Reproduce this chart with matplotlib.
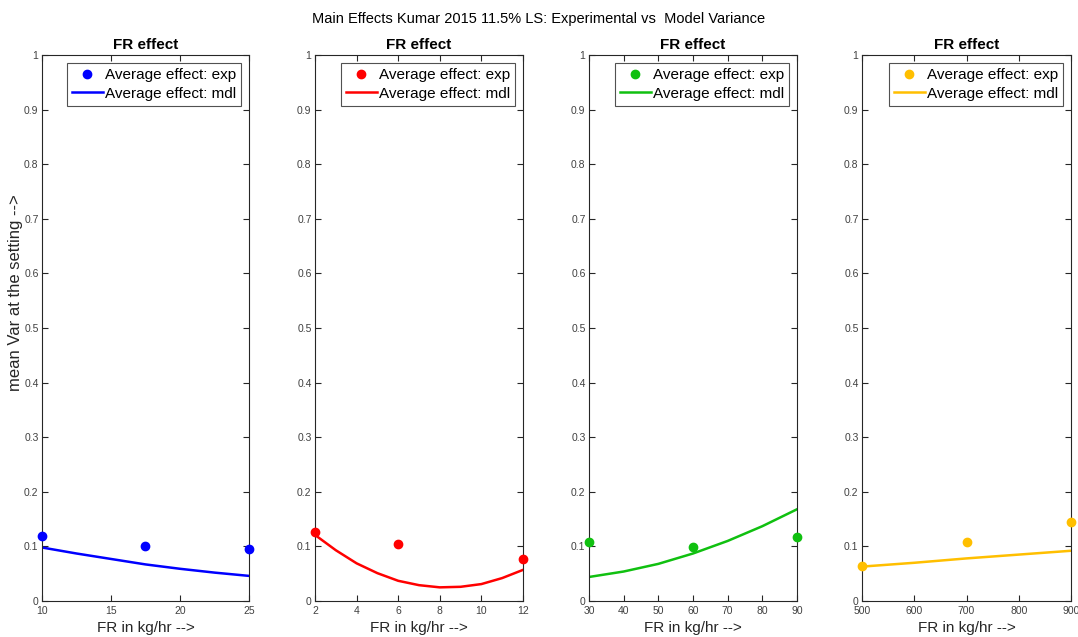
import matplotlib
matplotlib.use("Agg")
import matplotlib.pyplot as plt
import numpy as np

plt.rcParams['font.family'] = ['Liberation Sans', 'DejaVu Sans']

# Panel 1
x1_exp = [10, 17.5, 25]
y1_exp = [0.119, 0.101, 0.095]
x1_mdl = [10, 12.5, 15, 17.5, 20, 22.5, 25]
y1_mdl = [0.098, 0.087, 0.077, 0.067, 0.059, 0.052, 0.046]
# Panel 2
x2_exp = [2, 6, 12]
y2_exp = [0.126, 0.104, 0.077]
x2_mdl = [2, 3, 4, 5, 6, 7, 8, 9, 10, 11, 12]
y2_mdl = [0.121, 0.093, 0.069, 0.051, 0.037, 0.029, 0.025, 0.026, 0.031, 0.042, 0.057]
# Panel 3
x3_exp = [30, 60, 90]
y3_exp = [0.108, 0.099, 0.117]
x3_mdl = [30, 40, 50, 60, 70, 80, 90]
y3_mdl = [0.044, 0.054, 0.068, 0.087, 0.110, 0.137, 0.168]
# Panel 4
x4_exp = [500, 700, 900]
y4_exp = [0.065, 0.108, 0.145]
x4_mdl = [500, 600, 700, 800, 900]
y4_mdl = [0.063, 0.070, 0.078, 0.085, 0.092]

panels = [
    (x1_exp, y1_exp, x1_mdl, y1_mdl, [10, 15, 20, 25], (10, 25), '#0000FF'),
    (x2_exp, y2_exp, x2_mdl, y2_mdl, [2, 4, 6, 8, 10, 12], (2, 12), '#FF0000'),
    (x3_exp, y3_exp, x3_mdl, y3_mdl, [30, 40, 50, 60, 70, 80, 90], (30, 90), '#10C010'),
    (x4_exp, y4_exp, x4_mdl, y4_mdl, [500, 600, 700, 800, 900], (500, 900), '#FFBF00'),
]

yticks = [0, 0.1, 0.2, 0.3, 0.4, 0.5, 0.6, 0.7, 0.8, 0.9, 1]
ytick_labels = ['0', '0.1', '0.2', '0.3', '0.4', '0.5', '0.6', '0.7', '0.8', '0.9', '1']

fig = plt.figure(figsize=(10.78, 6.37), dpi=100)
lefts = [42, 315, 589, 862]
widths = [207, 208, 208, 209]
W, H = 1078, 637
top_px, bot_px = 55, 601

for i, (xe, ye, xm, ym, xt, xl, c) in enumerate(panels):
    ax = fig.add_axes([lefts[i] / W, 1 - bot_px / H, widths[i] / W, (bot_px - top_px) / H])
    ax.plot(xe, ye, 'o', color=c, markersize=6, label='Average effect: exp', clip_on=False, zorder=5)
    ax.plot(xm, ym, '-', color=c, linewidth=1.8, label='Average effect: mdl')
    ax.set_xlim(*xl)
    ax.set_ylim(0, 1)
    ax.set_xticks(xt)
    ax.set_xticklabels([str(v) for v in xt])
    ax.set_yticks(yticks)
    ax.set_yticklabels(ytick_labels)
    ax.tick_params(direction='in', top=True, right=True, labelsize=7.5, colors='#262626',
                   labelcolor='#404040', length=4, width=0.8)
    ax.tick_params(axis='y', pad=2.5)
    for s in ax.spines.values():
        s.set_color('#262626')
        s.set_linewidth(0.8)
    ax.set_title('FR effect', fontsize=11, fontweight='bold', pad=4)
    ax.set_xlabel('FR in kg/hr -->', fontsize=11, color='#262626', labelpad=4)
    if i == 0:
        ax.set_ylabel('mean Var at the setting -->', fontsize=12, color='#262626')
        ax.yaxis.set_label_coords(-0.092, 0.564)
    leg = ax.legend(loc='upper right', fontsize=11, frameon=True, fancybox=False,
                    handlelength=2.0, handletextpad=0.15, borderpad=0.35, labelspacing=0.3,
                    borderaxespad=0.5)
    leg.get_frame().set_edgecolor('#262626')
    leg.get_frame().set_linewidth(0.8)

fig.text(0.5, 1 - 19 / H, 'Main Effects Kumar 2015 11.5% LS: Experimental vs  Model Variance',
         ha='center', va='center', fontsize=10.5)

fig.savefig('out.png', dpi=100)
